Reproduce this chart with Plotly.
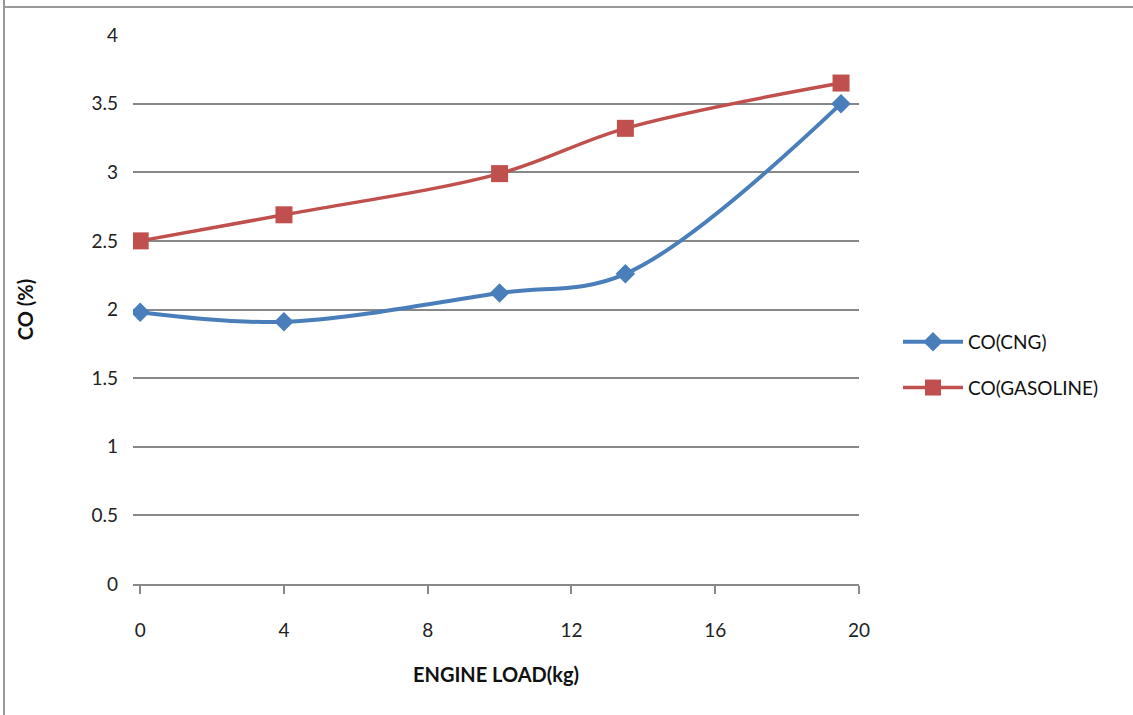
import plotly.graph_objects as go

engine_load = [0, 4, 10, 13.5, 19.5]
co_cng = [1.98, 1.91, 2.12, 2.26, 3.50]
co_gasoline = [2.50, 2.69, 2.99, 3.32, 3.65]
x_ticks = [0, 4, 8, 12, 16, 20]
y_ticks = [0, 0.5, 1, 1.5, 2, 2.5, 3, 3.5, 4]
y_tick_labels = ["0", "0.5", "1", "1.5", "2", "2.5", "3", "3.5", "4"]

W, H = 1133, 715
L, R, T, B = 133, 1133 - 859, 35, 715 - 584
pw, ph = W - L - R, H - T - B

font_family = "Lato, Open Sans, Liberation Sans, Arial, sans-serif"

fig = go.Figure()
fig.add_trace(go.Scatter(
    x=engine_load, y=co_cng, name="CO(CNG)", mode="lines+markers",
    line=dict(color="#4A7EBB", width=4, shape="spline", smoothing=1.0),
    marker=dict(symbol="diamond", size=15, color="#4A7EBB"),
    legendgroup="a",
))
fig.add_trace(go.Scatter(
    x=engine_load, y=co_gasoline, name="CO(GASOLINE)", mode="lines+markers",
    line=dict(color="#C0504D", width=3.5, shape="spline", smoothing=1.0),
    marker=dict(symbol="square", size=17, color="#C0504D"),
    legendgroup="b",
))

def px_x(p):
    return (p - L) / pw

def px_y(p):
    return 1 - (p - T) / ph

shapes = [
    dict(type="line", xref="paper", yref="paper", x0=px_x(4), x1=px_x(4),
         y0=px_y(0), y1=px_y(715), line=dict(color="#999999", width=2)),
    dict(type="line", xref="paper", yref="paper", x0=px_x(4), x1=px_x(1133),
         y0=px_y(7), y1=px_y(7), line=dict(color="#999999", width=2)),
]

fig.update_layout(
    width=W, height=H,
    margin=dict(l=L, r=R, t=T, b=B),
    paper_bgcolor="white", plot_bgcolor="white",
    font=dict(family=font_family, size=19, color="#222222"),
    showlegend=True,
    legend=dict(x=px_x(898), y=px_y(323), xanchor="left", yanchor="top",
                font=dict(size=19, color="#111111"), tracegroupgap=18,
                itemwidth=60),
    xaxis=dict(range=[-0.2, 20], tickvals=x_ticks, ticktext=[str(v) for v in x_ticks],
               showgrid=False, zeroline=False, showline=True,
               linecolor="#888888", linewidth=2,
               ticks="outside", ticklen=8, tickcolor="#888888", tickwidth=2,
               ticklabelstandoff=20,
               title=dict(text="<b>ENGINE LOAD(kg)</b>", font=dict(size=20, color="#111111"),
                          standoff=28)),
    yaxis=dict(range=[0, 4], tickvals=y_ticks, ticktext=y_tick_labels,
               showgrid=True, gridcolor="#888888", gridwidth=2,
               zeroline=False, showline=False, ticks="",
               ticklabelstandoff=14,
               title=dict(text="<b>CO (%)</b>", font=dict(size=20, color="#111111"),
                          standoff=52)),
    shapes=shapes,
)

fig.write_html("out.html")
